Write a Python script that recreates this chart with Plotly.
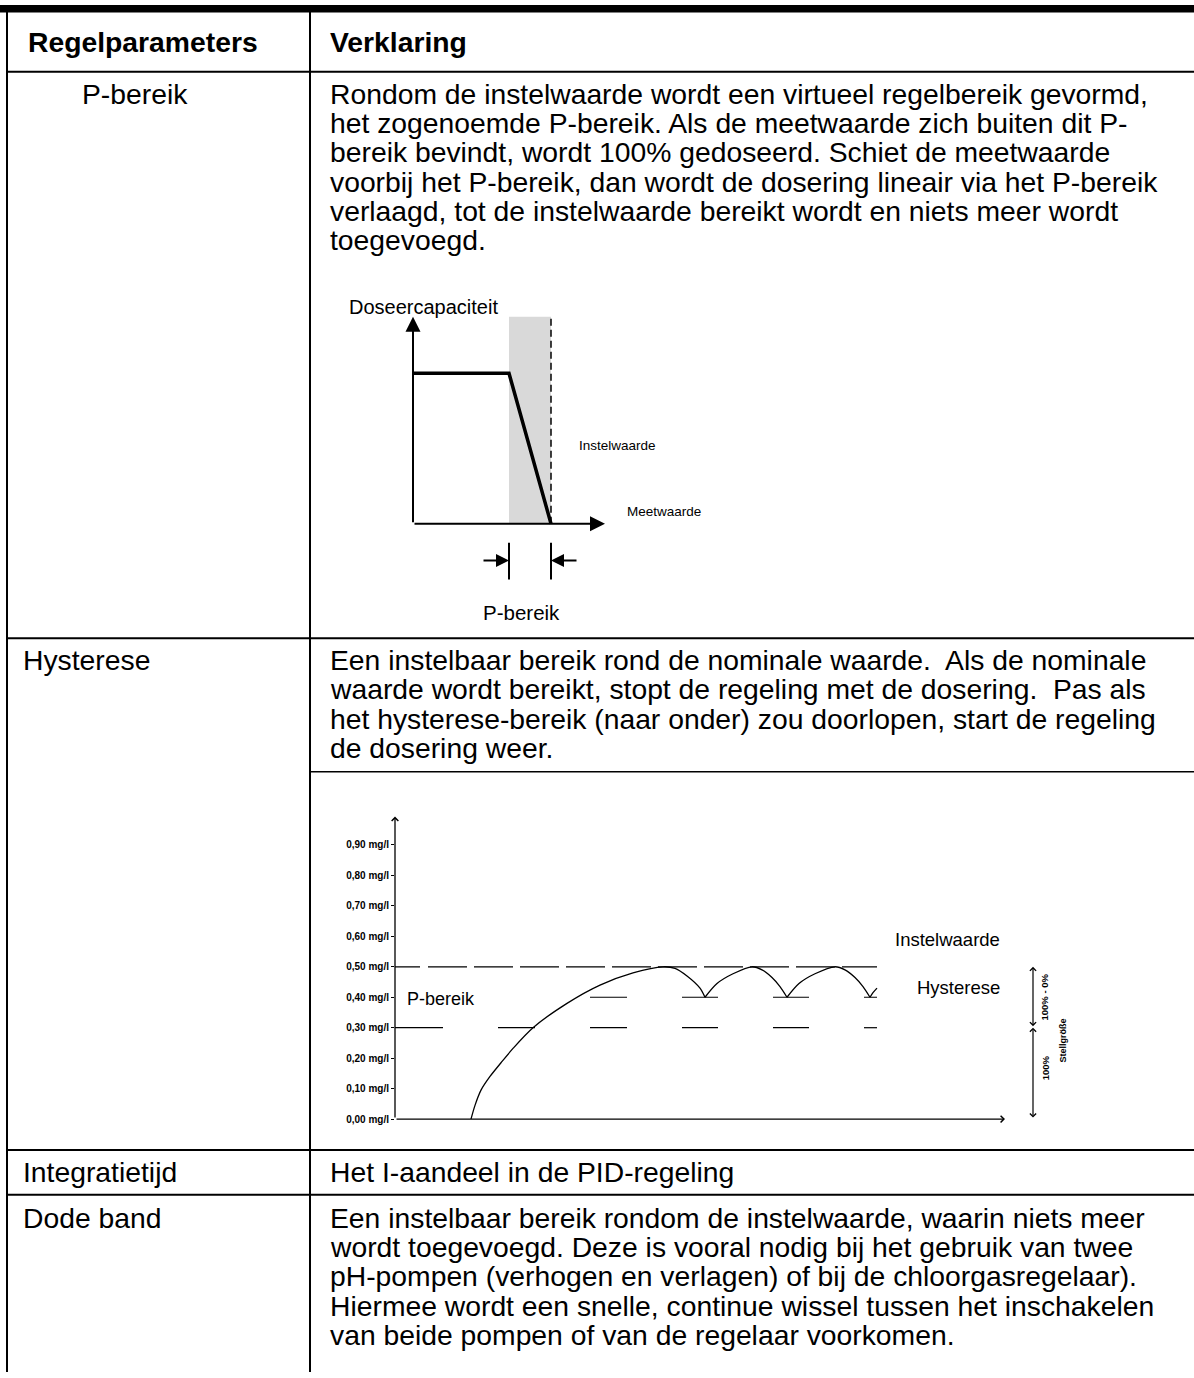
import plotly.graph_objects as go

W, H = 1194, 1378
FONT = "Liberation Sans, Arial, Helvetica, sans-serif"

# ---------------- table content ----------------
header_left = "Regelparameters"
header_right = "Verklaring"
row_params = ["P-bereik", "Hysterese", "Integratietijd", "Dode band"]
text_pbereik = [
    "Rondom de instelwaarde wordt een virtueel regelbereik gevormd,",
    "het zogenoemde P-bereik. Als de meetwaarde zich buiten dit P-",
    "bereik bevindt, wordt 100% gedoseerd. Schiet de meetwaarde",
    "voorbij het P-bereik, dan wordt de dosering lineair via het P-bereik",
    "verlaagd, tot de instelwaarde bereikt wordt en niets meer wordt",
    "toegevoegd.",
]
text_hysterese = [
    "Een instelbaar bereik rond de nominale waarde.\u00a0 Als de nominale",
    "waarde wordt bereikt, stopt de regeling met de dosering.\u00a0 Pas als",
    "het hysterese-bereik (naar onder) zou doorlopen, start de regeling",
    "de dosering weer.",
]
text_integratie = ["Het I-aandeel in de PID-regeling"]
text_dode = [
    "Een instelbaar bereik rondom de instelwaarde, waarin niets meer",
    "wordt toegevoegd. Deze is vooral nodig bij het gebruik van twee",
    "pH-pompen (verhogen en verlagen) of bij de chloorgasregelaar).",
    "Hiermee wordt een snelle, continue wissel tussen het inschakelen",
    "van beide pompen of van de regelaar voorkomen.",
]

# ---------------- P-bereik diagram ----------------
dose_x = [0, 96, 138]          # meetwaarde (relative units)
dose_y = [100, 100, 0]         # doseercapaciteit (%)
pband_lo, pband_hi = 96, 138   # P-bereik limits, hi = instelwaarde
diag_ymax = 137.7
diag_xmax = 192
bracket_y = [-12.6, -37.1]
bracket_arrow_y = -24.5
bracket_tail = [69, 165]

# ---------------- Hysterese diagram ----------------
y_tickvals = [0.0, 0.1, 0.2, 0.3, 0.4, 0.5, 0.6, 0.7, 0.8, 0.9]
y_ticktext = ["0,00 mg/l", "0,10 mg/l", "0,20 mg/l", "0,30 mg/l", "0,40 mg/l",
              "0,50 mg/l", "0,60 mg/l", "0,70 mg/l", "0,80 mg/l", "0,90 mg/l"]
curve_t = [76, 80, 86, 95, 106, 118, 138, 172, 205, 238, 268, 280, 292, 305, 310, None,
           310, 322, 338, 357, 367, 377, 385, 392, None,
           392, 404, 420, 440, 450, 460, 468, 475, None,
           475, 478, 482]
curve_v = [0.00, 0.045, 0.095, 0.14, 0.185, 0.232, 0.30, 0.38, 0.44, 0.48, 0.50, 0.495, 0.47, 0.43, 0.40, None,
           0.40, 0.445, 0.477, 0.50, 0.49, 0.465, 0.435, 0.40, None,
           0.40, 0.445, 0.477, 0.50, 0.49, 0.465, 0.435, 0.40, None,
           0.40, 0.415, 0.43]
instelwaarde = 0.50
hyst_level = 0.40
pbereik_level = 0.30
line50_t = [0, 482]
dash40_t0 = [195, 287, 378, 469]
dash40_t1 = [232, 323, 414, 482]
dash30_t0 = [0, 103, 195, 287, 378, 469]
dash30_t1 = [48, 140, 232, 323, 414, 482]
time_max = 610
v_max = 0.993
stell_t = 638
stell_levels = [0.0, 0.30, 0.50]


def segs(t0, t1, level):
    xs, ys = [], []
    for a, b in zip(t0, t1):
        xs += [a, b, None]
        ys += [level, level, None]
    return xs, ys


fig = go.Figure()
BL = "black"

# --- diagram 1 traces ---
fig.add_trace(go.Scatter(x=[pband_hi, pband_hi], y=[0, diag_ymax], mode="lines",
                         line=dict(color=BL, width=1.5, dash="7px,4px"),
                         xaxis="x", yaxis="y", hoverinfo="skip", showlegend=False))
fig.add_trace(go.Scatter(x=dose_x, y=dose_y, mode="lines",
                         line=dict(color=BL, width=3.5),
                         xaxis="x", yaxis="y", hoverinfo="skip", showlegend=False))
fig.add_trace(go.Scatter(x=[pband_lo, pband_lo, None, pband_hi, pband_hi],
                         y=[bracket_y[0], bracket_y[1], None, bracket_y[0], bracket_y[1]],
                         mode="lines", line=dict(color=BL, width=2),
                         xaxis="x", yaxis="y", hoverinfo="skip", showlegend=False))

# --- diagram 2 traces ---
lx, ly = segs([line50_t[0]], [line50_t[1]], instelwaarde)
fig.add_trace(go.Scatter(x=lx, y=ly, mode="lines",
                         line=dict(color=BL, width=1.2,
                                   dash="25px,8px," + ",".join(["39px,7px"] * 11)),
                         xaxis="x2", yaxis="y2", hoverinfo="skip", showlegend=False))
for t0, t1, lev in [(dash40_t0, dash40_t1, hyst_level), (dash30_t0, dash30_t1, pbereik_level)]:
    sx, sy = segs(t0, t1, lev)
    fig.add_trace(go.Scatter(x=sx, y=sy, mode="lines", line=dict(color=BL, width=1.2),
                             xaxis="x2", yaxis="y2", hoverinfo="skip", showlegend=False))
fig.add_trace(go.Scatter(x=curve_t, y=curve_v, mode="lines",
                         line=dict(color=BL, width=1.3, shape="spline", smoothing=0.8),
                         connectgaps=False,
                         xaxis="x2", yaxis="y2", hoverinfo="skip", showlegend=False))

# ---------------- table geometry ----------------
def px(x):
    return x / W


def py(y):
    return 1 - y / H


LEFT_X, DIV_X = 7, 310
HEAD_LINE = 72
ROW_LINES = [641, 1155, 1200]
SUB_LINE = 775
PITCH = 29.5
FS = 28.3

shapes = []
shapes.append(dict(type="rect", xref="paper", yref="paper", x0=0, x1=1,
                   y0=py(12.5), y1=py(5), fillcolor=BL, line=dict(width=0)))
for yy in [HEAD_LINE] + ROW_LINES:
    shapes.append(dict(type="line", xref="paper", yref="paper", x0=px(LEFT_X - 1), x1=1,
                       y0=py(yy), y1=py(yy), line=dict(color=BL, width=2)))
shapes.append(dict(type="line", xref="paper", yref="paper", x0=px(DIV_X), x1=1,
                   y0=py(SUB_LINE), y1=py(SUB_LINE), line=dict(color=BL, width=1.5)))
for xx in [LEFT_X, DIV_X]:
    shapes.append(dict(type="line", xref="paper", yref="paper", x0=px(xx), x1=px(xx),
                       y0=0, y1=py(12), line=dict(color=BL, width=2)))
# gray P-band in diagram 1
shapes.append(dict(type="rect", xref="x", yref="y", x0=pband_lo, x1=pband_hi,
                   y0=0, y1=diag_ymax, fillcolor="#d9d9d9", line=dict(width=0), layer="below"))

ann = []


def txt(s, x, y, size=FS, bold=False, anchor="left"):
    ann.append(dict(text=s, x=px(x), y=py(y), xref="paper", yref="paper",
                    xanchor=anchor, yanchor="middle", showarrow=False,
                    font=dict(family=FONT, size=size, color=BL,
                              weight="bold" if bold else "normal")))


TX = 328
txt(header_left, 26, 42, bold=True)
txt(header_right, TX, 42, bold=True)
txt(row_params[0], 80, 94)
for i, s in enumerate(text_pbereik):
    txt(s, TX, 94 + i * PITCH)
txt(row_params[1], 21, 663)
for i, s in enumerate(text_hysterese):
    txt(s, TX, 663 + i * PITCH)
txt(row_params[2], 21, 1177)
txt(text_integratie[0], TX, 1177)
txt(row_params[3], 21, 1223)
for i, s in enumerate(text_dode):
    txt(s, TX, 1223 + i * PITCH)


def arrow(x, y, ax, ay, xr, yr, head, size, width, both=False):
    d = dict(x=x, y=y, ax=ax, ay=ay, xref=xr, yref=yr, axref=xr, ayref=yr,
             text="", showarrow=True, arrowhead=head, arrowsize=size,
             arrowwidth=width, arrowcolor=BL, standoff=0)
    if both:
        d.update(arrowside="end+start", startarrowhead=head, startarrowsize=size,
                 startstandoff=0)
    ann.append(d)


# diagram 1 axes + bracket arrows
arrow(0, diag_ymax, 0, 0, "x", "y", 2, 1.5, 2)
arrow(diag_xmax, 0, 0, 0, "x", "y", 2, 1.5, 2)
arrow(pband_lo, bracket_arrow_y, bracket_tail[0], bracket_arrow_y, "x", "y", 2, 1.3, 2)
arrow(pband_hi, bracket_arrow_y, bracket_tail[1], bracket_arrow_y, "x", "y", 2, 1.3, 2)


def ltxt(s, x, y, xr, yr, size, anchor="left", bold=False, angle=0):
    ann.append(dict(text=s, x=x, y=y, xref=xr, yref=yr, xanchor=anchor, yanchor="middle",
                    showarrow=False, textangle=angle,
                    font=dict(family=FONT, size=size, color=BL,
                              weight="bold" if bold else "normal")))


ltxt("Doseercapaciteit", 11, 144.4, "x", "y", 20, "center")
ltxt("Instelwaarde", 164, 52.3, "x", "y", 13.5)
ltxt("Meetwaarde", 212, 7.9, "x", "y", 13.5)
ltxt("P-bereik", 108, -58.9, "x", "y", 20.5, "center")

# diagram 2 axes
arrow(0, v_max, 0, 0, "x2", "y2", 4, 1.0, 1.3)
arrow(time_max, 0, 0, 0, "x2", "y2", 4, 1.0, 1.3)
arrow(stell_t, stell_levels[2], stell_t, stell_levels[1], "x2", "y2", 4, 1.0, 1.2, both=True)
arrow(stell_t, stell_levels[1], stell_t, stell_levels[0], "x2", "y2", 4, 1.0, 1.2, both=True)
ltxt("Instelwaarde", 607, 0.588, "x2", "y2", 18.5, "right")
ltxt("Hysterese", 607, 0.431, "x2", "y2", 18.5, "right")
ltxt("P-bereik", 10, 0.395, "x2", "y2", 18)
ltxt("100% - 0%", 650, 0.399, "x2", "y2", 9.5, "center", bold=True, angle=-90)
ltxt("100%", 650, 0.167, "x2", "y2", 9.5, "center", bold=True, angle=-90)
ltxt("Stellgröße", 668, 0.258, "x2", "y2", 9, "center", bold=True, angle=-90)

hidden = dict(visible=False, fixedrange=True)
fig.update_layout(
    width=W, height=H, autosize=False,
    margin=dict(l=0, r=0, t=0, b=0, pad=0),
    paper_bgcolor="white", plot_bgcolor="rgba(0,0,0,0)",
    showlegend=False, hovermode=False,
    shapes=shapes, annotations=ann,
    xaxis=dict(domain=[px(340), px(740)], range=[-73, 327], **hidden),
    yaxis=dict(domain=[py(640), py(300)], range=[(526 - 640) / 1.51, (526 - 300) / 1.51],
               anchor="x", **hidden),
    xaxis2=dict(domain=[px(395), px(1100)], range=[0, 705], anchor="y2",
                showline=False, showgrid=False, zeroline=False, showticklabels=False,
                ticks="", fixedrange=True),
    yaxis2=dict(domain=[py(1124), py(800)], range=[0, 324 / 306], anchor="x2",
                showline=False, showgrid=False, zeroline=False,
                tickvals=y_tickvals, ticktext=y_ticktext, ticks="outside", ticklen=3,
                tickwidth=1, tickcolor=BL,
                tickfont=dict(family=FONT, size=10, color=BL, weight="bold"),
                fixedrange=True),
)

fig.write_html("out.html", post_script="document.body.style.margin='0';",
               config={"displayModeBar": False, "staticPlot": True})
